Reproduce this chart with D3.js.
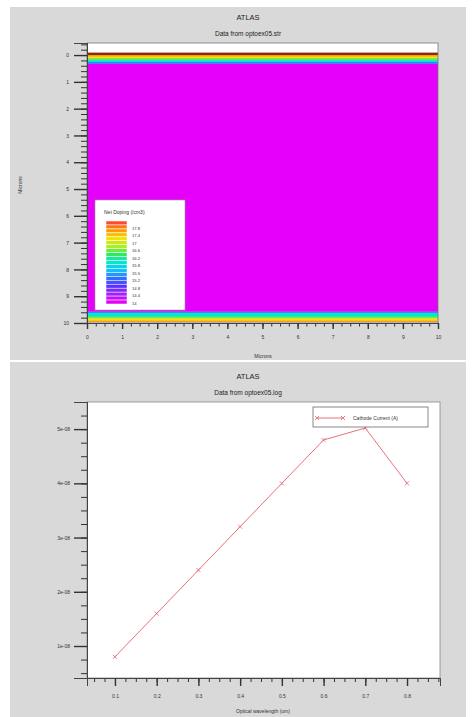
<!DOCTYPE html>
<html>
<head>
<meta charset="utf-8">
<script src="https://cdn.jsdelivr.net/npm/d3@7"></script>
<style>
  html, body { margin: 0; padding: 0; background: #fff; }
  svg { display: block; font-family: "Liberation Sans", Arial, sans-serif; }
  .tick text { fill: #333; }
</style>
</head>
<body>
<svg id="chart" width="476" height="717"></svg>
<script>
// ---- structure plot (optoex05.str) ----
const layerTop    = [-0.45, -0.09, 0, 0.06, 0.12, 0.19, 0.26, 0.33, 9.58, 9.62, 9.77, 9.83, 9.91, 9.96];
const layerBottom = [-0.09, 0, 0.06, 0.12, 0.19, 0.26, 0.33, 9.58, 9.62, 9.77, 9.83, 9.91, 9.96, 10];
// log10 net doping of each layer, null = no material
const layerDoping = [null, 18.4, 17.6, 17.2, 16.6, 16.0, 15.3, 14.0, 15.0, 16.0, 16.6, 17.2, 17.6];
const legendLabels = ["17.8", "17.4", "17", "16.6", "16.2", "15.8", "15.5", "15.2", "14.8", "14.4", "14"];
const legendLevels = d3.range(18.0, 13.95, -0.2);

// ---- photo current (optoex05.log) ----
const wavelength = [0.1, 0.2, 0.3, 0.4, 0.5, 0.6, 0.7, 0.8];
const cathodeCurrent = [0.8e-8, 1.6e-8, 2.4e-8, 3.2e-8, 4.0e-8, 4.8e-8, 5.02e-8, 4.0e-8];
const currentTicks = [1e-8, 2e-8, 3e-8, 4e-8, 5e-8];
const currentTickLabels = ["1e-08", "2e-08", "3e-08", "4e-08", "5e-08"];

const svg = d3.select("#chart");

const dopingColor = d3.scaleLinear()
  .domain([14, 14.4, 14.8, 15.2, 15.6, 16, 16.4, 16.8, 17.2, 17.6, 18, 18.4])
  .range(["#e400fa", "#a020ff", "#5a30ff", "#3070ff", "#10c0ff", "#00e8d0", "#30e860", "#a8f020", "#f0e400", "#ff9a00", "#ff4a30", "#8a2a10"])
  .clamp(true);

// gray panels
svg.append("rect").attr("x", 10).attr("y", 7).attr("width", 456).attr("height", 353).attr("fill", "#d9d9d9");
svg.append("rect").attr("x", 10).attr("y", 362).attr("width", 456).attr("height", 355).attr("fill", "#d9d9d9");

function titles(y0, sub) {
  svg.append("text").attr("x", 248).attr("y", y0).attr("text-anchor", "middle")
    .attr("font-size", 7.5).attr("fill", "#222").text("ATLAS");
  svg.append("text").attr("x", 248).attr("y", y0 + 16).attr("text-anchor", "middle")
    .attr("font-size", 6.5).attr("fill", "#222").text(sub);
}

// ===== TOP PLOT =====
titles(20, "Data from optoex05.str");

const x1 = d3.scaleLinear().domain([0, 10]).range([87, 438]);
const y1 = d3.scaleLinear().domain([-0.45, 10]).range([43, 323]);

const layers = layerDoping.map((d, i) => ({ top: layerTop[i], bottom: layerBottom[i], doping: d }));

svg.append("g").selectAll("rect").data(layers).join("rect")
  .attr("x", x1(0))
  .attr("y", d => y1(d.top))
  .attr("width", x1(10) - x1(0))
  .attr("height", d => y1(d.bottom) - y1(d.top))
  .attr("fill", d => d.doping === null ? "#fff" : dopingColor(d.doping));

svg.append("rect").attr("x", x1(0)).attr("y", y1(-0.45))
  .attr("width", x1(10) - x1(0)).attr("height", y1(10) - y1(-0.45))
  .attr("fill", "none").attr("stroke", "#777").attr("stroke-width", 0.8);

// axes top
function styleAxis(g) {
  g.select(".domain").attr("stroke", "#444");
  g.selectAll(".tick line").attr("stroke", "#333");
  g.selectAll(".tick text").attr("font-size", 5);
}

svg.append("g").attr("transform", `translate(${x1(0)},0)`)
  .call(d3.axisLeft(y1).tickValues(d3.range(-0.4, 10.01, 0.2)).tickSize(6).tickFormat(""))
  .call(styleAxis);
svg.append("g").attr("transform", `translate(${x1(0)},0)`)
  .call(d3.axisLeft(y1).tickValues(d3.range(0, 11)).tickSize(13).tickPadding(5).tickFormat(d3.format("d")))
  .call(styleAxis)
  .call(g => g.selectAll(".tick line").attr("stroke-width", 1.4));

svg.append("g").attr("transform", `translate(0,${y1(10)})`)
  .call(d3.axisBottom(x1).tickValues(d3.range(0, 10.01, 0.25)).tickSize(3.5).tickFormat(""))
  .call(styleAxis);
svg.append("g").attr("transform", `translate(0,${y1(10)})`)
  .call(d3.axisBottom(x1).tickValues(d3.range(0, 11)).tickSize(6).tickPadding(6).tickFormat(d3.format("d")))
  .call(styleAxis)
  .call(g => g.selectAll(".tick line").attr("stroke-width", 1.4));

svg.append("text").attr("x", 263).attr("y", 358).attr("text-anchor", "middle")
  .attr("font-size", 5).attr("fill", "#333").text("Microns");
svg.append("text").attr("transform", "translate(22,185) rotate(-90)").attr("text-anchor", "middle")
  .attr("font-size", 5).attr("fill", "#333").text("Microns");

// doping legend
const lg = svg.append("g");
lg.append("rect").attr("x", 95).attr("y", 200).attr("width", 90).attr("height", 110)
  .attr("fill", "#fff").attr("stroke", "#999").attr("stroke-width", 0.6);
lg.append("text").attr("x", 104).attr("y", 214).attr("font-size", 5).attr("fill", "#333")
  .text("Net Doping (/cm3)");
const barY = d3.scaleBand().domain(legendLevels).range([221, 304]);
lg.selectAll("rect.band").data(legendLevels).join("rect").attr("class", "band")
  .attr("x", 106).attr("width", 21)
  .attr("y", d => barY(d)).attr("height", barY.bandwidth())
  .attr("fill", d => dopingColor(d))
  .attr("stroke", "#fff").attr("stroke-width", 0.5);
const labY = d3.scalePoint().domain(legendLabels).range([228.5, 303]);
lg.selectAll("text.lab").data(legendLabels).join("text").attr("class", "lab")
  .attr("x", 132).attr("y", d => labY(d) + 1.5)
  .attr("font-size", 4.2).attr("fill", "#333").text(d => d);

// ===== BOTTOM PLOT =====
titles(379, "Data from optoex05.log");

const x2 = d3.scaleLinear().domain([0.033, 0.879]).range([87, 440]);
const y2 = d3.scaleLinear().domain([0.41e-8, 5.5e-8]).range([678, 402]);

svg.append("rect").attr("x", x2.range()[0]).attr("y", y2.range()[1])
  .attr("width", x2.range()[1] - x2.range()[0]).attr("height", y2.range()[0] - y2.range()[1])
  .attr("fill", "#fff").attr("stroke", "#888").attr("stroke-width", 0.8);

svg.append("g").attr("transform", `translate(${x2.range()[0]},0)`)
  .call(d3.axisLeft(y2).tickValues(d3.range(0.5e-8, 5.51e-8, 0.25e-8)).tickSize(6).tickFormat(""))
  .call(styleAxis);
svg.append("g").attr("transform", `translate(${x2.range()[0]},0)`)
  .call(d3.axisLeft(y2).tickValues(currentTicks).tickSize(13).tickPadding(4)
    .tickFormat((d, i) => currentTickLabels[i]))
  .call(styleAxis)
  .call(g => g.selectAll(".tick line").attr("stroke-width", 1.4));

svg.append("g").attr("transform", `translate(0,${y2.range()[0]})`)
  .call(d3.axisBottom(x2).tickValues(d3.range(0.05, 0.876, 0.025)).tickSize(4).tickFormat(""))
  .call(styleAxis);
svg.append("g").attr("transform", `translate(0,${y2.range()[0]})`)
  .call(d3.axisBottom(x2).tickValues(wavelength).tickSize(8).tickPadding(8).tickFormat(d3.format(".1f")))
  .call(styleAxis)
  .call(g => g.selectAll(".tick line").attr("stroke-width", 1.4));

svg.append("text").attr("x", 263).attr("y", 713).attr("text-anchor", "middle")
  .attr("font-size", 5).attr("fill", "#333").text("Optical wavelength (um)");

const pts = wavelength.map((w, i) => ({ w, c: cathodeCurrent[i] }));
const lineColor = "#e8707c";

svg.append("path").datum(pts)
  .attr("fill", "none").attr("stroke", lineColor).attr("stroke-width", 1)
  .attr("d", d3.line().x(d => x2(d.w)).y(d => y2(d.c)));

function cross(g, cx, cy, s) {
  g.append("path").attr("d", `M${cx - s},${cy - s}L${cx + s},${cy + s}M${cx - s},${cy + s}L${cx + s},${cy - s}`)
    .attr("stroke", lineColor).attr("stroke-width", 0.9).attr("fill", "none");
}
const mk = svg.append("g");
pts.forEach(d => cross(mk, x2(d.w), y2(d.c), 2));

// curve legend
const cl = svg.append("g");
cl.append("rect").attr("x", 313).attr("y", 407).attr("width", 115).attr("height", 20)
  .attr("fill", "#fff").attr("stroke", "#555").attr("stroke-width", 0.7);
cl.append("line").attr("x1", 317).attr("x2", 343).attr("y1", 418).attr("y2", 418)
  .attr("stroke", lineColor).attr("stroke-width", 1);
cross(cl, 317, 418, 2);
cross(cl, 343, 418, 2);
cl.append("text").attr("x", 353).attr("y", 420).attr("font-size", 5).attr("fill", "#333")
  .text("Cathode Current (A)");
</script>
</body>
</html>
